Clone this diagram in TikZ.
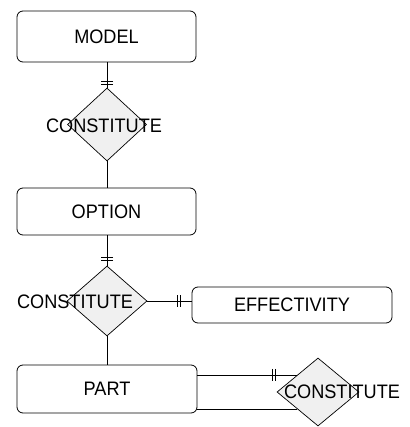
\documentclass[tikz,border=0pt]{standalone}
\usepackage{fontspec}
\setmainfont{Liberation Sans}[FakeStretch=0.93]
\usetikzlibrary{shapes.geometric,decorations.markings}
\begin{document}
\begin{tikzpicture}[x=1pt,y=-1pt,
 entity/.style={draw,rounded corners=6pt,line width=0.8pt,inner sep=0pt,font=\fontsize{19.5}{22}\selectfont},
 rel/.style={draw,diamond,fill=gray!12,inner sep=0pt,line width=0.7pt},
 word/.style={font=\fontsize{19.5}{22}\selectfont,inner sep=0pt},
 link/.style={line width=0.6pt},
 bars/.style={postaction={decorate,decoration={markings,mark=at position #1 with {\draw[line width=0.6pt] (-1.6,-6)--(-1.6,6) (1.6,-6)--(1.6,6);}}}}]
 \useasboundingbox (0,0) rectangle (409,427);
 % entities
 \node[entity,minimum width=179pt,minimum height=51pt] (model) at (106.5,36.5) {MODEL};
 \node[entity,minimum width=179pt,minimum height=47pt] (option) at (106.5,211.5) {OPTION};
 \node[entity,minimum width=200pt,minimum height=36pt] (effectivity) at (292,305) {EFFECTIVITY};
 \node[entity,minimum width=180pt,minimum height=48pt] (part) at (107,389) {PART};
 % relationships
 \node[rel,minimum width=79pt,minimum height=73pt] (rel1) at (107,124.5) {};
 \node[word] (rel1text) at (104,126) {CONSTITUTE};
 \node[rel,minimum width=80pt,minimum height=70pt] (rel2) at (107,301) {};
 \node[word] (rel2text) at (75,302) {CONSTITUTE};
 \node[rel,minimum width=82pt,minimum height=68pt] (rel3) at (318,392) {};
 \node[word] (rel3text) at (342,392) {CONSTITUTE};
 % links
 \draw[link,bars=-4.5pt] (rel1.north |- model.south) -- (rel1.north);
 \draw[link] (rel1.south) -- (rel1.south |- option.north);
 \draw[link,bars=-6.5pt] (rel2.north |- option.south) -- (rel2.north);
 \draw[link,bars=-12.5pt] (rel2.east) -- (rel2.east -| effectivity.west);
 \draw[link] (rel2.south) -- (rel2.south |- part.north);
 \draw[link,bars=-23.5pt] (rel3.north west -| part.east) -- (rel3.north west);
 \draw[link] (rel3.south west -| part.east) -- (rel3.south west);
\end{tikzpicture}
\end{document}
